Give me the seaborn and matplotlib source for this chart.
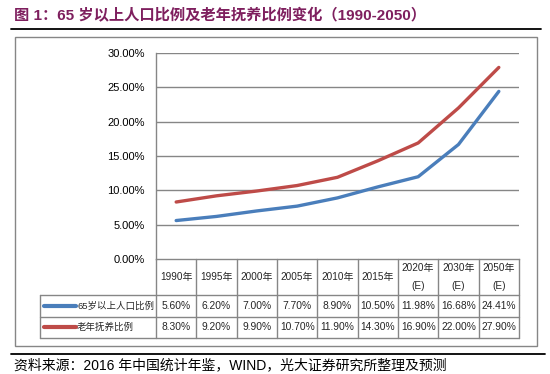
import numpy as np
import pandas as pd
import matplotlib
matplotlib.use("Agg")
import matplotlib.pyplot as plt
import seaborn as sns
from matplotlib.ticker import FuncFormatter

years = ["1990年", "1995年", "2000年", "2005年", "2010年", "2015年", "2020年\n(E)", "2030年\n(E)", "2050年\n(E)"]
old_share = [5.60, 6.20, 7.00, 7.70, 8.90, 10.50, 11.98, 16.68, 24.41]
dependency = [8.30, 9.20, 9.90, 10.70, 11.90, 14.30, 16.90, 22.00, 27.90]
series_names = ["65岁以上人口比例", "老年抚养比例"]
colors = ["#4A7EBB", "#BE4B48"]

title = "图 1：65 岁以上人口比例及老年抚养比例变化（1990-2050）"
source = "资料来源：2016 年中国统计年鉴，WIND，光大证券研究所整理及预测"

W, H = 550, 374
GRAY = "#868686"
FONTS = ["Liberation Sans", "Noto Sans CJK SC", "DejaVu Sans"]

sns.set_theme(style="white")
plt.rcParams["font.family"] = FONTS

df = pd.DataFrame({
    "pos": list(range(len(years))) * 2,
    "value": old_share + dependency,
    "series": [series_names[0]] * len(years) + [series_names[1]] * len(years),
})

fig = plt.figure(figsize=(W / 100, H / 100), dpi=100)

# overlay in pixel coords for frame, title, table, footer
ov = fig.add_axes([0, 0, 1, 1])
ov.set_xlim(0, W)
ov.set_ylim(H, 0)
ov.axis("off")

# plot area (pixels)
L, R, T, B = 156, 519, 53, 259
ax = fig.add_axes([L / W, 1 - B / H, (R - L) / W, (B - T) / H])
ax.set_zorder(2)
ax.patch.set_alpha(0)

sns.lineplot(data=df, x="pos", y="value", hue="series", palette=colors,
             linewidth=2.4, legend=False, ax=ax)
ax.set_xlim(-0.5, len(years) - 0.5)
ax.set_ylim(0, 30)
ax.set_yticks(np.arange(0, 31, 5))
ax.yaxis.set_major_formatter(FuncFormatter(lambda v, p: f"{v:.2f}%"))
ax.set_xticks([])
ax.set_xlabel("")
ax.set_ylabel("")
ax.tick_params(axis="y", length=0, pad=8, labelsize=8, colors="black")
for y in np.arange(5, 31, 5):
    ax.axhline(y, color=GRAY, lw=1, zorder=0)
for s in ["top", "right"]:
    ax.spines[s].set_visible(False)
for s in ["left", "bottom"]:
    ax.spines[s].set_color(GRAY)
    ax.spines[s].set_linewidth(1)

# outer frame
ov.add_patch(plt.Rectangle((14.5, 36.5), 522, 309, fill=False, ec=GRAY, lw=1))

# title and footer
ov.text(14, 16, title, fontsize=11, fontweight="bold", color="#7E1F5E", va="center", ha="left")
ov.plot([11, 541], [28.5, 28.5], color="black", lw=1.3)
ov.plot([11, 545], [354, 354], color="black", lw=1.3)
ov.text(14, 365, source, fontsize=10, color="black", va="center", ha="left")

# data table
cw = (R - L) / len(years)
edges = [L + k * cw for k in range(len(years) + 1)]
hb, r1, r2 = 295, 316.5, 337.5
for y in [hb, r1, r2]:
    ov.plot([40, R], [y, y], color=GRAY, lw=1)
ov.plot([40, 40], [hb, r2], color=GRAY, lw=1)
for x in edges:
    ov.plot([x, x], [B, r2], color=GRAY, lw=1)

for i, lab in enumerate(years):
    cx = L + (i + 0.5) * cw
    ov.text(cx, (B + hb) / 2, lab, fontsize=7.2, ha="center", va="center", linespacing=1.9)
    ov.text(cx, (hb + r1) / 2, f"{old_share[i]:.2f}%", fontsize=7.4, ha="center", va="center")
    ov.text(cx, (r1 + r2) / 2, f"{dependency[i]:.2f}%", fontsize=7.4, ha="center", va="center")

for name, col, (y0, y1) in zip(series_names, colors, [(hb, r1), (r1, r2)]):
    ym = (y0 + y1) / 2
    ov.plot([44, 76], [ym, ym], color=col, lw=3, solid_capstyle="round")
    ov.text(77, ym, name, fontsize=6.8, ha="left", va="center")

fig.savefig("out.png", dpi=100)
